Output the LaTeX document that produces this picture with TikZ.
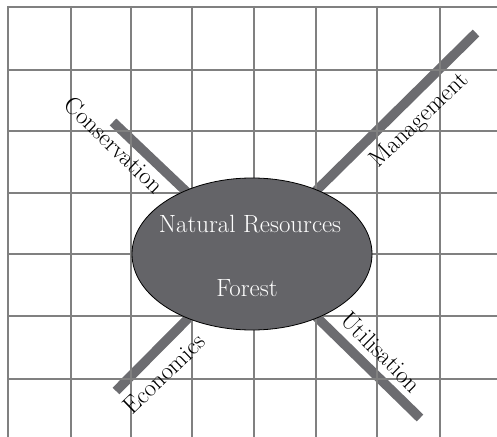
\documentclass[tikz,border=0pt]{standalone}
\usetikzlibrary{backgrounds,shapes.geometric}
\definecolor{gridgray}{RGB}{128,128,128}
\definecolor{bargray}{RGB}{108,108,112}
\definecolor{hubgray}{RGB}{100,100,104}
\tikzset{
  gridline/.style={draw=gridgray, line width=2bp},
  spoke/.style={draw=bargray, line width=9.5bp, line cap=butt},
  hub/.style={ellipse, draw=black, line width=0.8bp, fill=hubgray,
    minimum width=240bp, minimum height=152bp, inner sep=0pt},
  hubtext/.style={text=white, font=\fontsize{25}{29}\selectfont},
  spokelabel/.style={font=\fontsize{24.5}{28}\selectfont, inner sep=0pt}
}
\begin{document}
\begin{tikzpicture}[x=1bp, y=-1bp]
  \useasboundingbox (0,0) rectangle (497,437);
  \begin{scope}
    \clip (0,0) rectangle (497,437);
    % square grid, open on the right and bottom
    \foreach \gx in {8,71,131,192,254,316,377,440}
      \draw[gridline] (\gx,6) -- (\gx,440);
    \foreach \gy in {7,70,131,193,254,316,379}
      \draw[gridline] (7,\gy) -- (500,\gy);
  \end{scope}

  % central resource node
  \node[hub] (hub) at (252,254) {};
  \node[hubtext] (nr) at (250,224) {Natural Resources};
  \node[hubtext] (forest) at (247,288) {Forest};

  % outer ends of the four spokes
  \coordinate (cons) at (113,122);
  \coordinate (mgmt) at (476,33);
  \coordinate (econ) at (116,391);
  \coordinate (util) at (420,418);

  % spokes run from the hub centre, hidden under the ellipse
  \begin{scope}[on background layer]
    \draw[spoke] (hub.center) -- (cons);
    \draw[spoke] (hub.center) -- (mgmt);
    \draw[spoke] (hub.center) -- (econ);
    \draw[spoke] (hub.center) -- (util);
  \end{scope}

  % spoke labels
  \node[spokelabel, rotate=-44] (lcons) at (114,145) {Conservation};
  \node[spokelabel, rotate=44] (lmgmt) at (420,121) {Management};
  \node[spokelabel, rotate=44] (lecon) at (164,374) {Economics};
  \node[spokelabel, rotate=-45] (lutil) at (381,352) {Utilisation};
\end{tikzpicture}
\end{document}
